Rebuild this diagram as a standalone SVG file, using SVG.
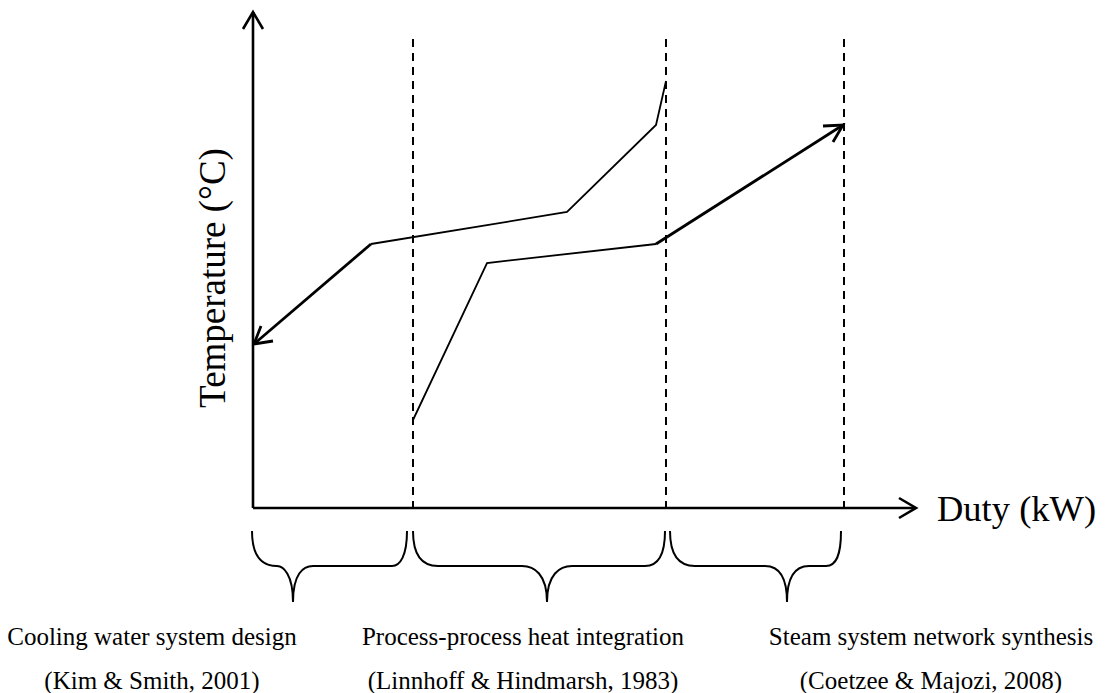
<svg xmlns="http://www.w3.org/2000/svg" width="1108" height="693" viewBox="0 0 1108 693">
  <style>
    .axis { stroke: #000; stroke-width: 2.6; fill: none; }
    .div { stroke: #000; stroke-width: 2; stroke-dasharray: 8 6; fill: none; }
    .curve { stroke: #000; stroke-width: 1.8; fill: none; stroke-linejoin: miter; }
    .thick { stroke: #000; stroke-width: 2.8; fill: none; }
    .brace { stroke: #000; stroke-width: 2; fill: none; }
    .lbl { font-family: "Liberation Serif", "Times New Roman", serif; fill: #000; }
  </style>

  <rect width="1108" height="693" fill="#fff"/>

  <!-- axes -->
  <g id="axes">
    <polyline class="axis" points="253,508 253,12"/>
    <polyline class="axis" points="243,29 253,12 263,29"/>
    <polyline class="axis" points="253,508 915,508"/>
    <polyline class="axis" points="899,498 916,508 899,518"/>
  </g>

  <!-- region dividers -->
  <g id="dividers">
    <line class="div" x1="413" y1="39" x2="413" y2="508"/>
    <line class="div" x1="666" y1="39" x2="666" y2="508"/>
    <line class="div" x1="844" y1="39" x2="844" y2="508"/>
  </g>

  <!-- composite curves -->
  <g id="curves">
    <polyline class="thick" points="371,244 254,344"/>
    <polyline class="thick" points="261,326 254,344 273,341"/>
    <polyline class="curve" points="371,244 567,212 656,125 666,81"/>
    <polyline class="curve" points="413,420 487,263 656,244"/>
    <polyline class="thick" points="656,244 843,125"/>
    <polyline class="thick" points="823,126 843,125 833,142"/>
  </g>

  <!-- braces -->
  <g id="braces">
    <path class="brace" d="M252,531 C252,556 262,566 277,566 C283,566 293,574 293,602 C293,574 303,566 313,566 L392,566 C400,566 407,556 407,531"/>
    <path class="brace" d="M413,531 C413,556 423,566 438,566 L522,566 C534,566 547,574 547,602 C547,574 560,566 572,566 L645,566 C658,566 665,556 665,531"/>
    <path class="brace" d="M670,531 C670,556 680,566 695,566 L765,566 C777,566 787,574 787,602 C787,574 797,566 809,566 L826,566 C836,566 841,556 841,531"/>
  </g>

  <!-- axis labels -->
  <g id="axis-labels">
    <text class="lbl" font-size="37" transform="translate(225,278) rotate(-90)" text-anchor="middle">Temperature (°C)</text>
    <text class="lbl" font-size="36.5" x="937" y="521">Duty (kW)</text>
  </g>

  <!-- region labels -->
  <g id="region-labels">
    <g id="cooling">
      <text class="lbl" font-size="25" x="152" y="645" text-anchor="middle">Cooling water system design</text>
      <text class="lbl" font-size="25" x="152" y="689" text-anchor="middle">(Kim &amp; Smith, 2001)</text>
    </g>
    <g id="process">
      <text class="lbl" font-size="25" x="523" y="645" text-anchor="middle">Process-process heat integration</text>
      <text class="lbl" font-size="25" x="523" y="689" text-anchor="middle">(Linnhoff &amp; Hindmarsh, 1983)</text>
    </g>
    <g id="steam">
      <text class="lbl" font-size="25" x="931" y="645" text-anchor="middle">Steam system network synthesis</text>
      <text class="lbl" font-size="25" x="931" y="689" text-anchor="middle">(Coetzee &amp; Majozi, 2008)</text>
    </g>
  </g>
</svg>
